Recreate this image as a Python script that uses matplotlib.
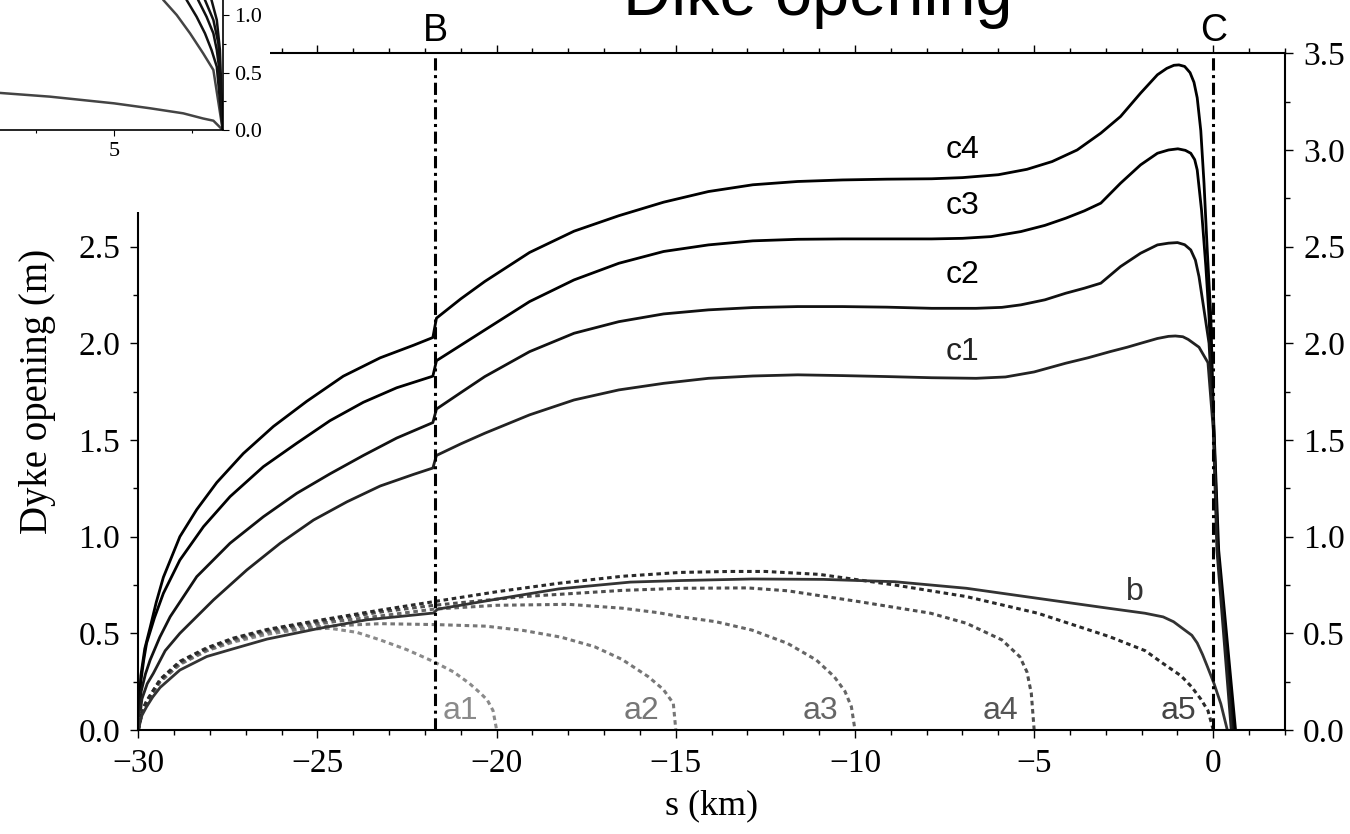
import numpy as np
import matplotlib
matplotlib.use('Agg')
import matplotlib.pyplot as plt
from matplotlib.ticker import MultipleLocator, FormatStrFormatter
import matplotlib.transforms as mtransforms

plt.rcParams['font.family'] = ['Liberation Serif', 'DejaVu Serif']
SANS = ['Liberation Sans', 'DejaVu Sans']

###############################################################################
# data  (s in km, opening in m)

c4_s = [-30, -29.93, -29.82, -29.67, -29.5, -29.3, -28.84, -28.37, -27.81, -27.07,
        -26.23, -25.3, -24.28, -23.25, -22.32, -21.78, -21.68, -21.0, -20.33, -19.08,
        -17.84, -16.59, -15.34, -14.09, -12.85, -11.6, -10.35, -9.11, -7.86, -7.0,
        -6.0, -5.2, -4.5, -3.8, -3.14, -2.59, -2.03, -1.56, -1.3, -1.1,
        -0.96, -0.8, -0.65, -0.54, -0.45, -0.35, -0.26, -0.17, -0.07, 0.0,
        0.15, 0.62]
c4_v = [0, 0.28, 0.42, 0.53, 0.66, 0.79, 1.0, 1.14, 1.28, 1.43,
        1.57, 1.70, 1.83, 1.925, 1.99, 2.03, 2.13, 2.23, 2.32, 2.47,
        2.58, 2.66, 2.73, 2.785, 2.82, 2.837, 2.845, 2.849, 2.851, 2.857,
        2.872, 2.9, 2.94, 3.0, 3.087, 3.173, 3.294, 3.389, 3.422, 3.438,
        3.44, 3.432, 3.40, 3.35, 3.27, 3.1, 2.828, 2.483, 2.138, 1.65,
        0.93, 0.0]

c3_s = [-30, -29.93, -29.85, -29.77, -29.55, -29.3, -28.84, -28.18, -27.44, -26.51,
        -25.58, -24.65, -23.72, -22.79, -21.78, -21.68, -21.0, -20.33, -19.08, -17.84,
        -16.59, -15.34, -14.09, -12.85, -11.6, -10.35, -9.11, -7.86, -7.0, -6.2,
        -5.37, -4.7, -4.12, -3.6, -3.14, -2.59, -2.03, -1.56, -1.25, -0.99,
        -0.78, -0.63, -0.52, -0.45, -0.33, -0.21, -0.12, 0.0, 0.13, 0.58]
c3_v = [0, 0.25, 0.36, 0.448, 0.58, 0.707, 0.879, 1.052, 1.207, 1.362,
        1.483, 1.6, 1.695, 1.77, 1.83, 1.91, 1.99, 2.069, 2.216, 2.328,
        2.414, 2.475, 2.509, 2.53, 2.538, 2.54, 2.54, 2.54, 2.543, 2.552,
        2.578, 2.61, 2.647, 2.685, 2.725, 2.828, 2.923, 2.983, 3.0, 3.006,
        2.998, 2.983, 2.95, 2.897, 2.69, 2.40, 2.138, 1.62, 0.93, 0.0]

c2_s = [-30, -29.92, -29.8, -29.67, -29.4, -29.11, -28.37, -27.44, -26.51, -25.58,
        -24.65, -23.72, -22.79, -21.78, -21.68, -21.0, -20.33, -19.08, -17.84, -16.59,
        -15.34, -14.09, -12.85, -11.6, -10.35, -9.11, -7.86, -6.62, -5.9, -5.37,
        -4.7, -4.12, -3.6, -3.14, -2.59, -2.03, -1.56, -1.25, -1.0, -0.8,
        -0.63, -0.50, -0.40, -0.26, -0.12, 0.0, 0.12, 0.54]
c2_v = [0, 0.2, 0.29, 0.362, 0.48, 0.586, 0.793, 0.966, 1.103, 1.224,
        1.325, 1.42, 1.51, 1.59, 1.66, 1.745, 1.828, 1.957, 2.052, 2.112,
        2.152, 2.173, 2.185, 2.19, 2.19, 2.187, 2.181, 2.181, 2.186, 2.199,
        2.225, 2.259, 2.285, 2.311, 2.397, 2.466, 2.509, 2.518, 2.521, 2.51,
        2.483, 2.43, 2.345, 2.173, 2.0, 1.6, 0.93, 0.0]

c1_s = [-30, -29.9, -29.75, -29.58, -29.25, -28.84, -27.9, -26.97, -26.04, -25.11,
        -24.18, -23.25, -22.32, -21.78, -21.68, -21.0, -20.33, -19.08, -17.84, -16.59,
        -15.34, -14.09, -12.85, -11.6, -10.35, -9.11, -7.86, -6.62, -5.8, -5.0,
        -4.12, -3.5, -2.88, -2.4, -2.03, -1.56, -1.25, -1.06, -0.85, -0.7,
        -0.55, -0.4, -0.15, 0.0, 0.1, 0.5]
c1_v = [0, 0.16, 0.24, 0.293, 0.41, 0.50, 0.673, 0.828, 0.966, 1.086,
        1.18, 1.262, 1.322, 1.355, 1.42, 1.48, 1.535, 1.63, 1.707, 1.759,
        1.793, 1.819, 1.831, 1.837, 1.833, 1.828, 1.822, 1.819, 1.826, 1.852,
        1.897, 1.925, 1.957, 1.98, 2.0, 2.025, 2.036, 2.038, 2.034, 2.02,
        2.0, 1.98, 1.9, 1.55, 0.93, 0.0]

b_s = [-30, -29.9, -29.77, -29.6, -29.39, -28.84, -28.09, -27.35, -26.41, -24.97,
       -23.62, -21.76, -21.65, -19.9, -18.26, -16.27, -14.87, -12.88, -10.88, -8.89,
       -6.89, -4.9, -2.9, -1.91, -1.4, -1.11, -0.82, -0.6, -0.45, -0.3,
       -0.17, 0.02, 0.21, 0.39]
b_v = [0, 0.075, 0.12, 0.17, 0.22, 0.31, 0.38, 0.42, 0.47, 0.525,
       0.57, 0.605, 0.625, 0.68, 0.73, 0.765, 0.773, 0.781, 0.779, 0.767,
       0.733, 0.681, 0.629, 0.604, 0.585, 0.56, 0.52, 0.49, 0.45, 0.39,
       0.33, 0.24, 0.135, 0.0]

a1_s = [-30, -29.9, -29.77, -29.39, -28.84, -28.09, -27.35, -26.41, -25.5, -24.65,
        -23.9, -23.25, -22.5, -21.75, -21.2, -20.76, -20.45, -20.26, -20.1, -20.0]
a1_v = [0, 0.09, 0.14, 0.25, 0.34, 0.41, 0.455, 0.495, 0.52, 0.526,
        0.505, 0.466, 0.415, 0.353, 0.30, 0.241, 0.19, 0.155, 0.1, 0.0]

a2_s = [-30, -29.9, -29.77, -29.39, -28.84, -28.09, -27.35, -26.41, -24.97, -23.25,
        -21.66, -20.3, -19.26, -18.2, -17.27, -16.5, -15.77, -15.35, -15.07, -15.0]
a2_v = [0, 0.09, 0.14, 0.25, 0.34, 0.41, 0.46, 0.505, 0.535, 0.55,
        0.545, 0.537, 0.515, 0.48, 0.431, 0.365, 0.276, 0.21, 0.138, 0.0]

a3_s = [-30, -29.9, -29.77, -29.39, -28.84, -28.09, -27.35, -26.41, -24.97, -23.25,
        -21.75, -20.0, -18.0, -16.5, -15.5, -14.87, -13.88, -12.88, -11.88, -11.08,
        -10.58, -10.28, -10.1, -10.0]
a3_v = [0, 0.092, 0.145, 0.255, 0.345, 0.415, 0.465, 0.51, 0.55, 0.59,
        0.625, 0.645, 0.65, 0.63, 0.607, 0.586, 0.56, 0.517, 0.448, 0.362,
        0.276, 0.2, 0.12, 0.0]

a4_s = [-30, -29.9, -29.77, -29.39, -28.84, -28.09, -27.35, -26.41, -24.97, -23.25,
        -21.75, -19.26, -16.5, -14.87, -13.0, -11.88, -9.89, -7.89, -6.89, -5.9,
        -5.4, -5.2, -5.08, -5.0]
a4_v = [0, 0.093, 0.147, 0.258, 0.35, 0.42, 0.47, 0.515, 0.56, 0.61,
        0.645, 0.69, 0.722, 0.733, 0.735, 0.72, 0.664, 0.604, 0.552, 0.466,
        0.379, 0.3, 0.19, 0.0]

a5_s = [-30, -29.9, -29.77, -29.39, -28.84, -28.09, -27.35, -26.41, -24.97, -23.25,
        -21.75, -20.0, -18.26, -16.5, -14.87, -13.5, -12.5, -11.0, -8.89, -6.89,
        -4.9, -2.9, -1.9, -1.41, -0.9, -0.61, -0.35, -0.15, 0.0]
a5_v = [0, 0.095, 0.15, 0.262, 0.355, 0.425, 0.475, 0.52, 0.567, 0.62,
        0.664, 0.715, 0.759, 0.795, 0.815, 0.82, 0.82, 0.805, 0.75, 0.69,
        0.604, 0.483, 0.41, 0.345, 0.28, 0.224, 0.16, 0.1, 0.0]

# inset curves (only the visible corner)
in_low_x = [1.2, 2.94, 5.0, 6.16, 7.23, 7.87, 8.2, 8.5]
in_low_y = [0.325, 0.29, 0.232, 0.189, 0.145, 0.10, 0.081, 0.0]
in_up_x = [[6.3, 6.59, 7.02, 7.45, 7.87, 8.2, 8.5],
           [7.1, 7.34, 7.66, 7.93, 8.14, 8.31, 8.5],
           [7.5, 7.71, 7.98, 8.2, 8.31, 8.38, 8.5],
           [7.75, 7.93, 8.2, 8.36, 8.5],
           [8.0, 8.14, 8.31, 8.41, 8.5]]
in_up_y = [[1.3, 1.13, 1.0, 0.84, 0.667, 0.522, 0.0],
           [1.3, 1.13, 0.985, 0.84, 0.696, 0.55, 0.0],
           [1.3, 1.13, 0.985, 0.84, 0.696, 0.55, 0.0],
           [1.3, 1.13, 0.957, 0.754, 0.0],
           [1.3, 1.13, 0.957, 0.696, 0.0]]
in_up_col = ['#444444', '#111111', '#111111', '#111111', '#111111']

B_pos = -21.72
C_pos = 0.0

###############################################################################

W, H = 1350, 834
fig = plt.figure(figsize=(W / 100, H / 100), dpi=100)

x0, x1, y0, y1 = 138.3, 1285, 53.3, 730
ax = fig.add_axes([x0 / W, 1 - y1 / H, (x1 - x0) / W, (y1 - y0) / H])
ax.set_xlim(-30, 2)
ax.set_ylim(0, 3.5)

# curves
ax.plot(c4_s, c4_v, color='black', lw=2.0)
ax.plot(c3_s, c3_v, color='black', lw=2.0)
ax.plot(c2_s, c2_v, color='#111111', lw=2.0)
ax.plot(c1_s, c1_v, color='#222222', lw=2.0)

dots = (0, (1.5, 1.2))
ax.plot(a1_s, a1_v, color='#8a8a8a', lw=2.2, linestyle=dots)
ax.plot(a2_s, a2_v, color='#777777', lw=2.2, linestyle=dots)
ax.plot(a3_s, a3_v, color='#666666', lw=2.2, linestyle=dots)
ax.plot(a4_s, a4_v, color='#4d4d4d', lw=2.2, linestyle=dots)
ax.plot(a5_s, a5_v, color='#2a2a2a', lw=2.2, linestyle=dots)
ax.plot(b_s, b_v, color='#333333', lw=2.0)

# B and C
dd = (0, (4, 1.5, 1, 1.5))
ax.axvline(B_pos, color='black', lw=2.2, linestyle=dd)
ax.axvline(C_pos, color='black', lw=2.2, linestyle=dd)
trans = mtransforms.blended_transform_factory(ax.transData, ax.transAxes)
ax.text(B_pos, 1.018, 'B', transform=trans, ha='center', va='baseline',
        fontsize=27, family=SANS)
ax.text(C_pos, 1.018, 'C', transform=trans, ha='center', va='baseline',
        fontsize=27, family=SANS)

# curve labels
for lab, xs, ys, col in [('c4', -7.0, 3.0, 'black'), ('c3', -7.0, 2.71, 'black'),
                         ('c2', -7.0, 2.354, 'black'), ('c1', -7.0, 1.955, '#222222'),
                         ('b', -2.2, 0.714, '#333333'),
                         ('a1', -21.0, 0.098, '#8a8a8a'), ('a2', -15.96, 0.098, '#777777'),
                         ('a3', -10.96, 0.098, '#666666'), ('a4', -5.94, 0.098, '#555555'),
                         ('a5', -0.97, 0.098, '#444444')]:
    ax.text(xs, ys, lab, ha='center', va='center', fontsize=23, color=col, family=SANS)

# axes styling
for sp in ax.spines.values():
    sp.set_linewidth(1.5)
ax.xaxis.set_major_locator(MultipleLocator(5))
ax.xaxis.set_minor_locator(MultipleLocator(1))
ax.yaxis.set_major_locator(MultipleLocator(0.5))
ax.yaxis.set_minor_locator(MultipleLocator(0.25))
ax.yaxis.set_major_formatter(FormatStrFormatter('%.1f'))
ax.tick_params(which='both', direction='out', top=True, right=True,
               labelright=True, labelsize=24, width=1.0, pad=7)
ax.tick_params(which='major', length=6)
ax.tick_params(which='minor', length=3.5)

ax.set_xlabel('s (km)', fontsize=26)
ax.xaxis.set_label_coords(0.5, -0.088)
ax.set_ylabel('Dyke opening (m)', fontsize=28)
ax.yaxis.set_label_coords(-0.072, 0.5)

# title
fig.text(818 / W, 1 - 15 / H, 'Dike opening', ha='center', va='baseline',
         fontsize=48, family=SANS)

# white block hiding the top-left corner of the main frame
bx, by = 270, 211.7
ax_bg = fig.add_axes([0, 1 - by / H, bx / W, by / H], zorder=2)
ax_bg.set_xticks([])
ax_bg.set_yticks([])
for sp in ax_bg.spines.values():
    sp.set_visible(False)

# inset
ix_min, ix_max, iy_max = -2.5, 8.5, 2.0
px_per_x, px_per_y = 31.07, 115.0
i_right, i_bottom = 222.7, 130.0
i_left = i_right - (ix_max - ix_min) * px_per_x
i_top = i_bottom - iy_max * px_per_y
axi = fig.add_axes([i_left / W, 1 - i_bottom / H, (i_right - i_left) / W,
                    (i_bottom - i_top) / H], zorder=3)
axi.set_xlim(ix_min, ix_max)
axi.set_ylim(0, iy_max)
axi.plot(in_low_x, in_low_y, color='#444444', lw=1.8)
for xs, ys, col in zip(in_up_x, in_up_y, in_up_col):
    axi.plot(xs, ys, color=col, lw=1.8)
axi.spines['left'].set_visible(False)
axi.spines['top'].set_visible(False)
axi.spines['bottom'].set_linewidth(1.2)
axi.spines['right'].set_linewidth(1.2)
axi.xaxis.set_major_locator(MultipleLocator(5))
axi.xaxis.set_minor_locator(MultipleLocator(2.5))
axi.yaxis.set_major_locator(MultipleLocator(0.5))
axi.yaxis.set_minor_locator(MultipleLocator(0.25))
axi.yaxis.set_major_formatter(FormatStrFormatter('%.1f'))
axi.tick_params(which='both', direction='out', left=False, labelleft=False,
                right=True, labelright=True, labelsize=16, width=0.8, pad=4)
axi.tick_params(which='major', length=4.5)
axi.tick_params(which='minor', length=2.5)

fig.savefig('out.png', dpi=100)
